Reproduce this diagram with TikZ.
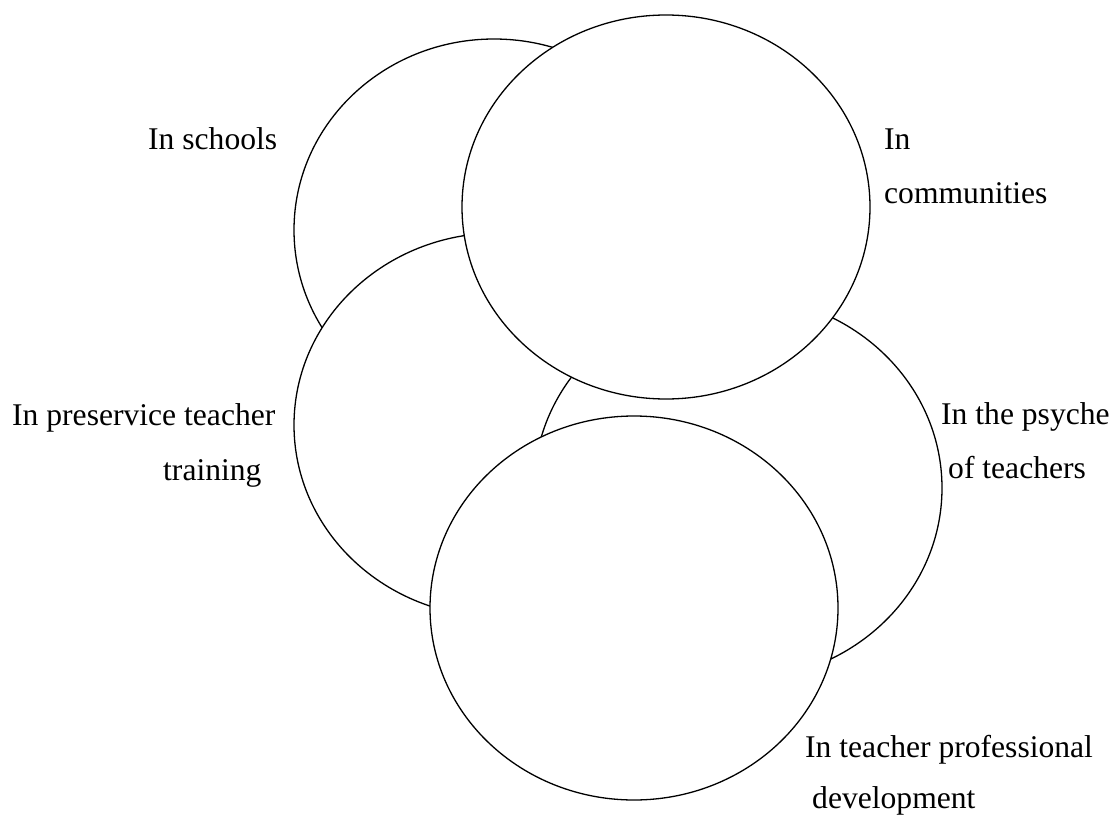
\documentclass[tikz,border=0pt]{standalone}
\usepackage{fontspec}
\setmainfont{Liberation Serif}
\usepackage{tikz}
\usetikzlibrary{shapes.geometric}

\tikzset{
	blob/.style={ellipse, draw, fill=white, line width=1.3pt, inner sep=0pt, minimum width=408pt, minimum height=384pt},
	lbl/.style={anchor=base west, inner sep=0pt, font=\fontsize{31.6}{38}\selectfont}
}

\begin{document}
\begin{tikzpicture}[x=1pt, y=-1pt]
	\useasboundingbox (0,0) rectangle (1114,816);

	\node [blob, minimum width=400pt, minimum height=382pt] (schools) at (494,230) {};
	\node [blob] (preservice) at (498,425) {};
	\node [blob] (psyche) at (738,488) {};
	\node [blob] (communities) at (666,207) {};
	\node [blob] (development) at (634,608) {};

	\node [lbl] (schoolsA) at (148,149) {In schools};
	\node [lbl] (commA) at (884,149) {In};
	\node [lbl] (commB) at (884,203) {communities};
	\node [lbl] (presA) at (12,425) {In preservice teacher};
	\node [lbl] (presB) at (163,480) {training};
	\node [lbl] (psycheA) at (941,424) {In the psyche};
	\node [lbl] (psycheB) at (948,478) {of teachers};
	\node [lbl] (devA) at (805,757) {In teacher professional};
	\node [lbl] (devB) at (812,808) {development};
\end{tikzpicture}
\end{document}
